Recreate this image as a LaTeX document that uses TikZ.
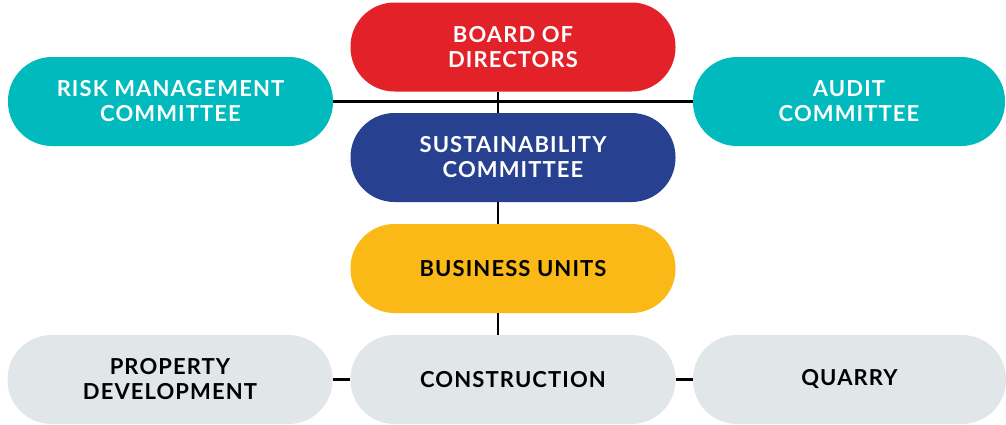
\documentclass[tikz,border=0pt]{standalone}
\usepackage{fontspec}
\setmainfont{Lato}[BoldFont={Lato Bold}, BoldFeatures={LetterSpace=5}]
\definecolor{cred}{HTML}{E32129}
\definecolor{cblue}{HTML}{27408F}
\definecolor{cyellow}{HTML}{FBB917}
\definecolor{cteal}{HTML}{00BABD}
\definecolor{cgrey}{HTML}{E1E6E9}
\begin{document}
\begin{tikzpicture}[x=1pt,y=-1pt,
  pill/.style={rectangle, rounded corners=44pt, minimum width=325pt, minimum height=89pt,
    inner sep=0pt, align=center, font=\fontsize{22}{25}\selectfont\bfseries, text=white},
  link/.style={line width=2.5pt, black}]
\useasboundingbox (0,0) rectangle (1006,424);
\coordinate (spine) at (498,0);
\node[pill, fill=cred] (board) at (513,47) {BOARD OF\\DIRECTORS};
\node[pill, fill=cblue] (sust) at (513,157.5) {SUSTAINABILITY\\COMMITTEE};
\node[pill, fill=cyellow, text=black] (bu) at (513,268.5) {BUSINESS UNITS};
\node[pill, fill=cteal] (risk) at (170.5,101.5) {RISK MANAGEMENT\\COMMITTEE};
\node[pill, fill=cteal, minimum width=312pt] (audit) at (849,101.5) {AUDIT\\COMMITTEE};
\node[pill, fill=cgrey, text=black] (prop) at (170,379.5) {PROPERTY\\DEVELOPMENT};
\node[pill, fill=cgrey, text=black] (cons) at (513,379.5) {CONSTRUCTION};
\node[pill, fill=cgrey, text=black, minimum width=313pt] (quar) at (849.5,379.5) {QUARRY};
\draw[link] (risk.east) -- (audit.west);
\draw[link] (board.south -| spine) -- (sust.north -| spine);
\draw[link] (sust.south -| spine) -- (bu.north -| spine);
\draw[link] (bu.south -| spine) -- (cons.north -| spine);
\draw[link] (prop.east) -- (cons.west);
\draw[link] (cons.east) -- (quar.west);
\end{tikzpicture}
\end{document}
